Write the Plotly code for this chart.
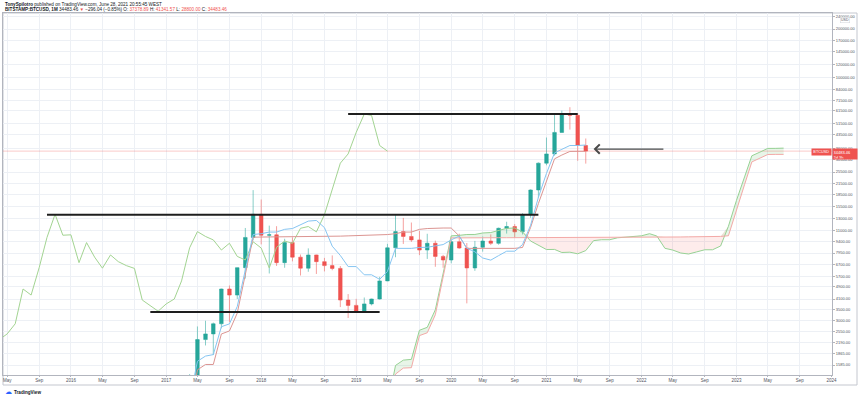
import math
import numpy as np
import pandas as pd
import plotly.graph_objects as go

# ---------------- data (BITSTAMP:BTCUSD, 1M) ----------------
CANDLE_START = "2017-01-01"
OPEN = [964, 965, 1190, 1080, 1348, 2286, 2480, 2870, 4735, 4340, 6440, 9950,
        13880, 10270, 10330, 6920, 9240, 7490, 6390, 7730, 7020, 6630, 6370, 4040,
        3740, 3440, 3820, 4100, 5320, 8570, 10820, 10090, 9600, 8300, 9150, 7570,
        7190, 9350, 8540, 6410, 8630, 9450, 9140, 11350, 11640, 10780, 13800, 19700,
        28990, 33110, 45140, 58790, 57700, 37379]
HIGH = [1153, 1200, 1280, 1390, 2760, 2999, 2920, 4760, 4980, 6470, 11400, 19666,
        17180, 11790, 11700, 9760, 9960, 7780, 8500, 7760, 7410, 7680, 6590, 4400,
        4110, 4190, 4120, 5640, 9070, 13880, 13180, 12330, 10950, 10490, 9500, 7740,
        9580, 10500, 9180, 9460, 10070, 10390, 11460, 12470, 12060, 14100, 19860, 29300,
        41950, 58350, 61780, 64900, 59580, 41342]
LOW = [752, 914, 890, 1075, 1331, 2100, 1830, 2690, 2950, 4100, 5500, 9530,
       9000, 5920, 6600, 6430, 7050, 5750, 6070, 5880, 6100, 6200, 3650, 3120,
       3350, 3390, 3740, 4070, 5300, 7480, 9060, 9330, 7710, 7300, 6520, 6430,
       6860, 8450, 3850, 6150, 8110, 8910, 8960, 10520, 9860, 10380, 13200, 17600,
       28130, 32300, 44950, 47000, 30000, 28800]
CLOSE = [965, 1190, 1080, 1348, 2286, 2480, 2870, 4735, 4340, 6440, 9950, 13880,
         10270, 10330, 6920, 9240, 7490, 6390, 7730, 7020, 6630, 6370, 4040, 3740,
         3440, 3820, 4100, 5320, 8570, 10820, 10090, 9600, 8300, 9150, 7570, 7190,
         9350, 8540, 6410, 8630, 9450, 9140, 11350, 11640, 10780, 13800, 19700, 28990,
         33110, 45140, 58790, 57700, 37379, 34483.46]

# Ichimoku lines (monthly, starting 2017-04)
ICHI_START = "2017-04-01"
DISPLACEMENT = 25
TENKAN = [957, 1672, 1802, 1841, 2750, 2866, 3680, 6145, 10370,
          10499, 10748, 10748, 11178, 11308, 11883, 12583, 12708, 11465, 8770, 7675, 6540,
          6540, 5810, 5810, 5440, 6095, 8500, 8500, 8500, 8615, 8635, 8810, 8975,
          9605, 10155, 8515, 8090, 7400, 7175, 7655, 8160, 8160, 8975, 11855, 17725,
          25030, 33630, 35370, 37380, 37380, 37640]
KIJUN = [793, 1478, 1597, 1597, 2478, 2588, 3348, 5818, 9983,
         10006, 10010, 10016, 10033, 10040, 10053, 10096, 10096, 10096, 10126, 10136, 10175,
         10203, 10209, 10278, 10278, 10370, 10499, 10748, 10748, 11178, 11308, 11393, 11393,
         11393, 10150, 8500, 8500, 8500, 8500, 8500, 8500, 8500, 8610, 11490, 16210,
         22535, 30850, 32585, 34320, 34375, 34375]
SPAN_A = [875, 1575, 1700, 1719, 2614, 2727, 3514, 5982, 10177,
          10253, 10379, 10382, 10606, 10674, 10968, 11340, 11402, 10781, 9448, 8906, 8358,
          8372, 8010, 8044, 7859, 8233, 9500, 9624, 9624, 9897, 9972, 10102, 10184,
          10499, 10153, 8508, 8295, 7950, 7838, 8078, 8330, 8330, 8793, 11673, 16968,
          23783, 32240, 33978, 35850, 35878, 36008]
SPAN_B = [702, 1390, 1516, 1525, 2420, 2522, 3268, 5748, 9886,
          9888, 9909, 9909, 9909, 9909, 9909, 9909, 9909, 9909, 9909, 9909, 9909,
          9909, 9909, 9909, 9909, 9930, 9930, 9930, 9930, 9930, 9930, 9930, 9945,
          9951, 9983, 10006, 10010, 10016, 10033, 10040, 10053, 10096, 10096, 10193, 14943,
          21278, 29517, 31260, 32826, 32895, 32895]

# hand-drawn horizontal levels
LEVEL_PRICE = [58800, 13800, 3400]
LEVEL_FROM = ["2018-12-01", "2015-10-01", "2016-11-01"]
LEVEL_TO = ["2021-05-01", "2020-12-01", "2019-04-01"]
ARROW_PRICE = 35500
ARROW_TAIL = "2022-04-01"
ARROW_HEAD = "2021-07-01"

X_TICKS = ["2015-05-01", "2015-09-01", "2016-01-01", "2016-05-01", "2016-09-01",
           "2017-01-01", "2017-05-01", "2017-09-01", "2018-01-01", "2018-05-01",
           "2018-09-01", "2019-01-01", "2019-05-01", "2019-09-01", "2020-01-01",
           "2020-05-01", "2020-09-01", "2021-01-01", "2021-05-01", "2021-09-01",
           "2022-01-01", "2022-05-01", "2022-09-01", "2023-01-01", "2023-05-01",
           "2023-09-01", "2024-01-01"]
X_TICK_TEXT = ["May", "Sep", "2016", "May", "Sep", "2017", "May", "Sep", "2018", "May",
               "Sep", "2019", "May", "Sep", "2020", "May", "Sep", "2021", "May", "Sep",
               "2022", "May", "Sep", "2023", "May", "Sep", "2024"]
Y_TICKS = [1585, 1865, 2190, 2550, 3000, 3500, 4100, 4900, 5700, 6700, 7950, 9400,
           11000, 13000, 15500, 18500, 21500, 25500, 30500, 36000, 43500, 51500, 61500,
           71500, 84000, 100000, 120000, 145000, 170000, 200000, 240000]
Y_TICK_TEXT = [f"{v:.2f}" for v in Y_TICKS]

# ---------------- layout helpers ----------------
W, H = 860, 398
L, R, T, B = 3, 28, 13, 23
PW, PH = W - L - R, H - T - B
X_RANGE = ["2015-04-15", "2024-01-03"]
Y_RANGE = [3.1375, 5.4013]


def px_x(x):
    return (x - L) / PW


def px_y(y):
    return (H - B - y) / PH


UP, DOWN = "#26a69a", "#ef5350"
GRID = "#edf0f5"
AXIS = "#b2b5be"
FONT = "Liberation Sans, Arial, sans-serif"

months = pd.date_range(CANDLE_START, periods=len(CLOSE), freq="MS")
ichi_x = pd.date_range(ICHI_START, periods=len(TENKAN), freq="MS")
lead_x = pd.date_range(pd.Timestamp(ICHI_START) + pd.DateOffset(months=DISPLACEMENT),
                       periods=len(SPAN_A), freq="MS")
lag_x = pd.date_range(pd.Timestamp(CANDLE_START) - pd.DateOffset(months=DISPLACEMENT),
                      periods=len(CLOSE), freq="MS")
upper = np.maximum(SPAN_A, SPAN_B)

fig = go.Figure()

# cloud fills
fig.add_trace(go.Scatter(x=lead_x, y=SPAN_B, mode="lines", line=dict(width=0), hoverinfo="skip"))
fig.add_trace(go.Scatter(x=lead_x, y=upper, mode="lines", line=dict(width=0), fill="tonexty",
                         fillcolor="rgba(76,175,80,0.13)", hoverinfo="skip"))
fig.add_trace(go.Scatter(x=lead_x, y=SPAN_A, mode="lines", line=dict(width=0), hoverinfo="skip"))
fig.add_trace(go.Scatter(x=lead_x, y=upper, mode="lines", line=dict(width=0), fill="tonexty",
                         fillcolor="rgba(244,67,54,0.10)", hoverinfo="skip"))

# last price line
fig.add_trace(go.Scatter(x=X_RANGE, y=[CLOSE[-1], CLOSE[-1]], mode="lines",
                         line=dict(color="rgba(239,83,80,0.30)", width=1), hoverinfo="skip"))

# ichimoku lines
fig.add_trace(go.Scatter(x=lead_x, y=SPAN_A, mode="lines", line=dict(color="#97d294", width=1)))
fig.add_trace(go.Scatter(x=lead_x, y=SPAN_B, mode="lines", line=dict(color="#f3a9a7", width=1)))
fig.add_trace(go.Scatter(x=lag_x, y=CLOSE, mode="lines", line=dict(color="#a3d492", width=1)))
fig.add_trace(go.Scatter(x=ichi_x, y=KIJUN, mode="lines", line=dict(color="#dc9592", width=1)))
fig.add_trace(go.Scatter(x=ichi_x, y=TENKAN, mode="lines", line=dict(color="#86c5f2", width=1)))

# candles
fig.add_trace(go.Candlestick(
    x=months, open=OPEN, high=HIGH, low=LOW, close=CLOSE,
    increasing=dict(line=dict(color="rgba(38,166,154,0.55)", width=1), fillcolor=UP),
    decreasing=dict(line=dict(color="rgba(239,83,80,0.55)", width=1), fillcolor=DOWN),
    whiskerwidth=0, hoverinfo="skip"))

# drawn levels
for p, a, b in zip(LEVEL_PRICE, LEVEL_FROM, LEVEL_TO):
    fig.add_trace(go.Scatter(x=[a, b], y=[p, p], mode="lines",
                             line=dict(color="#1e1e1e", width=2), hoverinfo="skip"))

ann = []
# arrow
ann.append(dict(x=ARROW_HEAD, y=math.log10(ARROW_PRICE), xref="x", yref="y",
                ax=ARROW_TAIL, ay=math.log10(ARROW_PRICE), axref="x", ayref="y",
                text="", showarrow=True, arrowhead=4, arrowsize=1.4, arrowwidth=1.3,
                arrowcolor="#4a4a4a"))
# header
ann.append(dict(x=0, y=px_y(4.5), xref="paper", yref="paper", xanchor="left", yanchor="middle",
                showarrow=False, font=dict(size=4.6, color="#131722", family=FONT),
                text="<b>TonySpilotro</b> published on TradingView.com, June 28, 2021 20:55:45 WEST"))
red = "#ef5350"
ann.append(dict(x=0, y=px_y(10), xref="paper", yref="paper", xanchor="left", yanchor="middle",
                showarrow=False, font=dict(size=4.6, color="#131722", family=FONT),
                text=("<b>BITSTAMP:BTCUSD, 1M</b> 34483.46 "
                      f"<span style='color:{red}'>▼</span> −296.04 (−0.85%) "
                      f"O: <span style='color:{red}'>37378.89</span> "
                      f"H: <span style='color:{red}'>41341.57</span> "
                      f"L: <span style='color:{red}'>28800.00</span> "
                      f"C: <span style='color:{red}'>34483.46</span>")))
# price labels on axis
ann.append(dict(x=1.0, y=math.log10(CLOSE[-1]), xref="paper", yref="y", xanchor="left",
                yanchor="top", yshift=3, showarrow=False, bgcolor=red, width=23, height=9,
                borderpad=0.5, align="left", valign="top",
                font=dict(size=4, color="white", family=FONT), text="34483.46<br>2d 3h"))
ann.append(dict(x=1.0, y=math.log10(CLOSE[-1]), xref="paper", yref="y", xanchor="right",
                yanchor="top", yshift=3, showarrow=False, bgcolor=red, width=18, height=5,
                borderpad=0.3, font=dict(size=3.8, color="white", family=FONT), text="BTCUSD"))
# USD box
ann.append(dict(x=px_x(845), y=px_y(20), xref="paper", yref="paper", xanchor="center",
                yanchor="middle", showarrow=False, bgcolor="white", bordercolor="#cfd2d8",
                borderwidth=0.5, borderpad=0.5, font=dict(size=3.6, color="#50535e", family=FONT),
                text="USD"))
# footer logo
ann.append(dict(x=px_x(3), y=px_y(392), xref="paper", yref="paper", xanchor="left",
                yanchor="middle", showarrow=False, font=dict(size=7, color="#2962ff", family="DejaVu Sans"),
                text="☁"))
ann.append(dict(x=px_x(12), y=px_y(392), xref="paper", yref="paper", xanchor="left",
                yanchor="middle", showarrow=False, font=dict(size=4.6, color="#131722", family=FONT),
                text="<b>TradingView</b>"))

shapes = [dict(type="rect", xref="paper", yref="paper", x0=0, x1=px_x(857), y0=px_y(385), y1=1,
               line=dict(color="#c4c7cf", width=1), fillcolor="rgba(0,0,0,0)", layer="below")]

fig.update_layout(
    width=W, height=H, margin=dict(l=L, r=R, t=T, b=B, pad=0),
    paper_bgcolor="white", plot_bgcolor="white", showlegend=False,
    annotations=ann, shapes=shapes,
    font=dict(family=FONT),
    xaxis=dict(type="date", range=X_RANGE, tickvals=X_TICKS, ticktext=X_TICK_TEXT, tickangle=0,
               showgrid=True, gridcolor=GRID, gridwidth=1, showline=True, linecolor=AXIS,
               linewidth=1, mirror=True, ticks="outside", ticklen=1, tickcolor=AXIS,
               tickfont=dict(size=4.5, color="#50535e", family=FONT),
               rangeslider=dict(visible=False), fixedrange=True, zeroline=False),
    yaxis=dict(type="log", side="right", range=Y_RANGE, tickvals=Y_TICKS, ticktext=Y_TICK_TEXT,
               showgrid=True, gridcolor=GRID, gridwidth=1, showline=True, linecolor=AXIS,
               linewidth=1, mirror=True, ticks="outside", ticklen=2, tickcolor=AXIS,
               tickfont=dict(size=4, color="#50535e", family=FONT), fixedrange=True,
               zeroline=False),
)

fig.write_html("out.html", config={"displayModeBar": False},
               post_script="document.body.style.margin='0px';document.body.style.overflow='hidden';")
